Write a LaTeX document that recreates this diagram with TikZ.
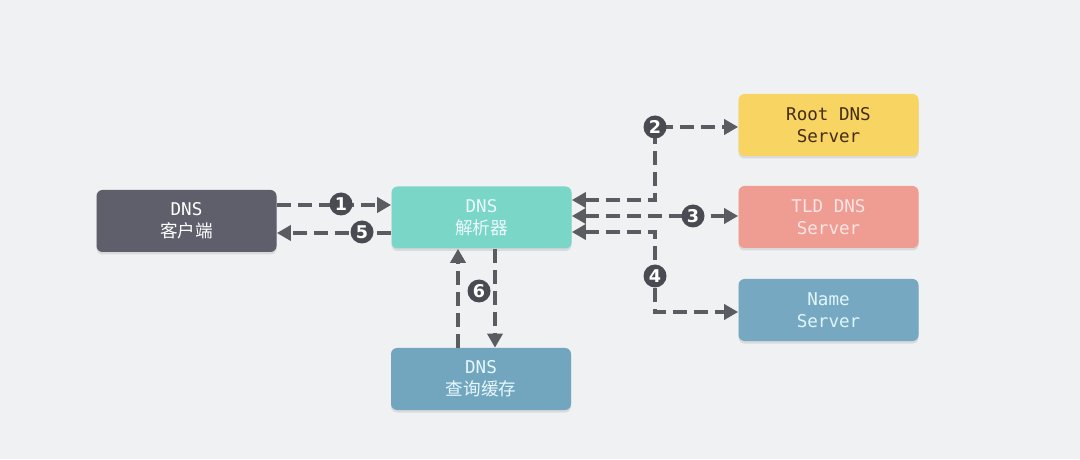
\documentclass[tikz,border=0pt]{standalone}
\usepackage{fontspec}
\setmonofont{DejaVu Sans Mono}
\setsansfont{DejaVu Sans}
\newfontfamily\cjk{Noto Sans CJK SC}
\usetikzlibrary{arrows.meta,shadows}
\definecolor{bgc}{HTML}{F0F1F3}
\definecolor{linec}{HTML}{5B5B62}
\definecolor{badgec}{HTML}{4A4A52}
\definecolor{clientc}{HTML}{5F5E6B}
\definecolor{resolverc}{HTML}{7AD6C7}
\definecolor{cachec}{HTML}{72A6BF}
\definecolor{rootc}{HTML}{F8D462}
\definecolor{tldc}{HTML}{EF9C93}
\definecolor{namec}{HTML}{76A9C1}

\begin{document}
\begin{tikzpicture}[>={Triangle[length=0.28cm,width=0.3cm]},
  box/.style={rounded corners=0.12cm,minimum width=3.6cm,minimum height=1.24cm,align=center,
    font=\ttfamily\fontsize{10}{12.5}\selectfont,
    drop shadow={shadow xshift=0cm,shadow yshift=-0.05cm,opacity=0.2}},
  flow/.style={linec,line width=0.085cm,dash pattern=on 0.28cm off 0.14cm},
  badge/.style={circle,fill=badgec,text=white,inner sep=0pt,minimum size=0.46cm,
    font=\sffamily\bfseries\fontsize{10}{11}\selectfont}]
\fill[bgc] (0,0) rectangle (21.6,9.18);
\useasboundingbox (0,0) rectangle (21.6,9.18);

\node[box,fill=clientc,text=white] (client) at (3.73,4.76) {DNS\\{\cjk 客户端}};
\node[box,fill=resolverc,text=white!92!cyan] (resolver) at (9.63,4.83) {DNS\\{\cjk 解析器}};
\node[box,fill=cachec,text=white!90!cyan] (cache) at (9.62,1.60) {DNS\\{\cjk 查询缓存}};
\node[box,fill=rootc,text=black!65!brown] (root) at (16.57,6.68) {Root DNS\\Server};
\node[box,fill=tldc,text=white!90!red] (tld) at (16.57,4.84) {TLD DNS\\Server};
\node[box,fill=namec,text=white!88!cyan] (ns) at (16.57,2.98) {Name\\Server};

\coordinate (c2) at (13.1,6.64);
\coordinate (c4) at (13.1,2.94);

% client <-> resolver
\draw[flow,->] (client.east |- 0,5.08) -- (resolver.west |- 0,5.08);
\draw[flow,->] (resolver.west |- 0,4.52) -- (client.east |- 0,4.52);
% resolver <-> servers
\draw[flow,<->] (resolver.east |- 0,5.18) -| (c2) -- (root.west |- c2);
\draw[flow,<->] (resolver.east |- 0,4.86) -- (tld.west |- 0,4.86);
\draw[flow,<->] (resolver.east |- 0,4.54) -| (c4) -- (ns.west |- c4);
% cache
\draw[flow,->] (cache.north -| 9.16,0) -- (resolver.south -| 9.16,0);
\draw[flow,->] (resolver.south -| 9.90,0) -- (cache.north -| 9.90,0);

\node[badge] (b1) at (6.82,5.10) {1};
\node[badge] (b2) at (c2) {2};
\node[badge] (b3) at (13.86,4.86) {3};
\node[badge] (b4) at (13.1,3.66) {4};
\node[badge] (b5) at (7.24,4.54) {5};
\node[badge] (b6) at (9.58,3.36) {6};
\end{tikzpicture}
\end{document}
